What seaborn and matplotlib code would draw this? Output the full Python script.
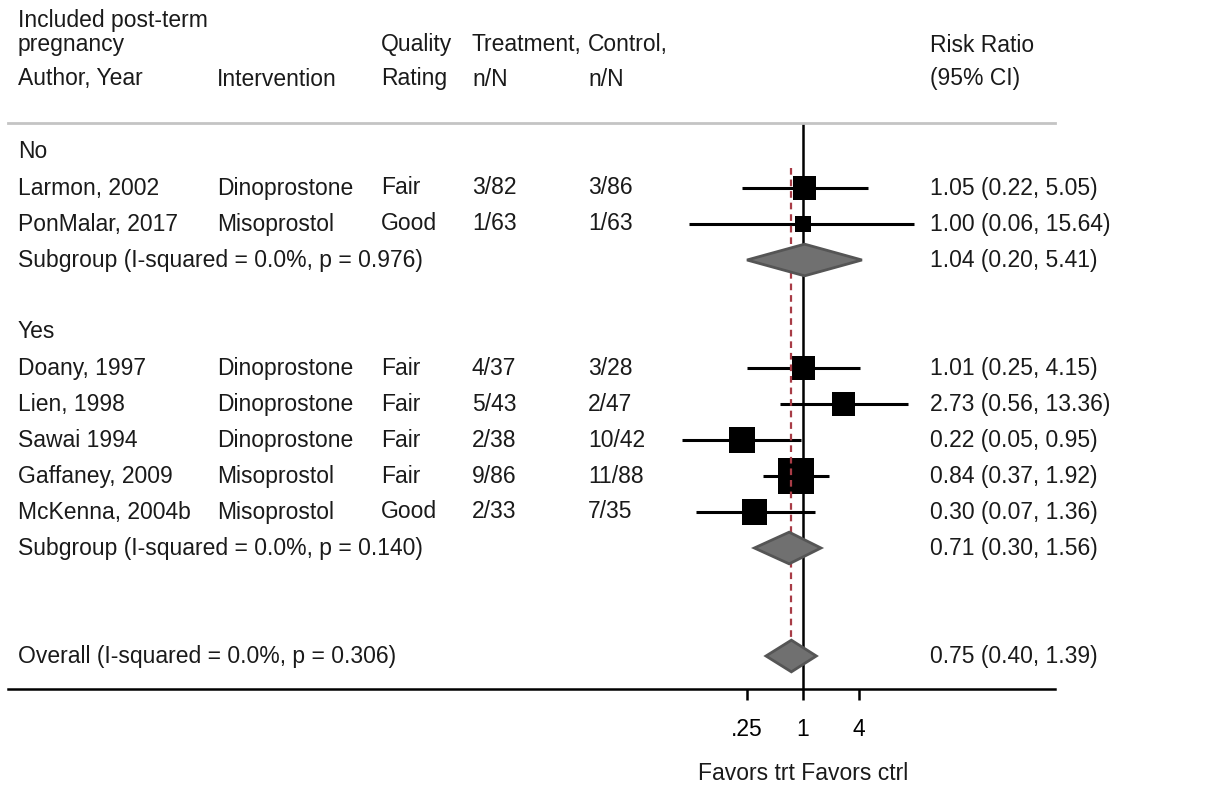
import numpy as np
import pandas as pd
import matplotlib
matplotlib.use("Agg")
import matplotlib.pyplot as plt
import matplotlib.transforms as mtransforms
import seaborn as sns

# Study-level data
studies = ["Larmon, 2002", "PonMalar, 2017", "Doany, 1997", "Lien, 1998",
           "Sawai 1994", "Gaffaney, 2009", "McKenna, 2004b"]
groups = ["No", "No", "Yes", "Yes", "Yes", "Yes", "Yes"]
interventions = ["Dinoprostone", "Misoprostol", "Dinoprostone", "Dinoprostone",
                 "Dinoprostone", "Misoprostol", "Misoprostol"]
quality = ["Fair", "Good", "Fair", "Fair", "Fair", "Fair", "Good"]
treat_nN = ["3/82", "1/63", "4/37", "5/43", "2/38", "9/86", "2/33"]
ctrl_nN = ["3/86", "1/63", "3/28", "2/47", "10/42", "11/88", "7/35"]
rr = [1.05, 1.00, 1.01, 2.73, 0.22, 0.84, 0.30]
rr_lo = [0.22, 0.06, 0.25, 0.56, 0.05, 0.37, 0.07]
rr_hi = [5.05, 15.64, 4.15, 13.36, 0.95, 1.92, 1.36]
weights = [12.1, 5.8, 12.1, 12.1, 14.8, 28.8, 14.3]

# Pooled estimates (subgroup No, subgroup Yes, overall)
pooled_labels = ["Subgroup (I-squared = 0.0%, p = 0.976)",
                 "Subgroup (I-squared = 0.0%, p = 0.140)",
                 "Overall (I-squared = 0.0%, p = 0.306)"]
pooled_rr = [1.04, 0.71, 0.75]
pooled_lo = [0.20, 0.30, 0.40]
pooled_hi = [5.41, 1.56, 1.39]
# diamond extents as drawn in the figure
diamond_lo = [0.25, 0.30, 0.40]
diamond_hi = [4.30, 1.56, 1.39]

group_names = ["No", "Yes"]
tick_vals = [0.25, 1, 4]
tick_labels = [".25", "1", "4"]


def fmt_ci(e, lo, hi):
    return f"{e:.2f} ({lo:.2f}, {hi:.2f})"


def main():
    sns.set_theme(style="white")
    plt.rcParams["font.family"] = ["Liberation Sans", "DejaVu Sans"]
    fs = 16.5

    # assign rows: group header, studies, subgroup line, blank
    r = 0
    header_rows, sub_rows = [], []
    study_rows = [0] * len(studies)
    for g in group_names:
        header_rows.append(r)
        r += 1
        for i, gg in enumerate(groups):
            if gg == g:
                study_rows[i] = r
                r += 1
        sub_rows.append(r)
        r += 2
    overall_row = r + 1
    pooled_rows = sub_rows + [overall_row]

    df = pd.DataFrame({"study": studies, "rr": rr, "lo": rr_lo, "hi": rr_hi,
                       "weight": weights, "row": study_rows})

    fig = plt.figure(figsize=(12.1, 7.93), dpi=100)
    W, H = 1210, 793
    ax = fig.add_axes([8 / W, 1 - 689 / H, (1055 - 8) / W, (689 - 123) / H])

    ppl = 40.4  # pixels per ln unit
    x_one = 803
    ax.set_xscale("log")
    ax.set_xlim(np.exp((8 - x_one) / ppl), np.exp((1055 - x_one) / ppl))
    ax.set_ylim((689 - 152) / 36, (123 - 152) / 36)

    # null line and overall line
    ax.axvline(1, color="black", lw=1.8, zorder=1)
    ax.vlines(pooled_rr[-1], study_rows[0] - 0.56, overall_row + 0.44,
              color="#a83c46", lw=1.6, linestyles=(0, (3, 2.2)), zorder=4)

    # CIs and weighted squares
    ax.hlines(df["row"], df["lo"], df["hi"], color="black", lw=2.2, zorder=2)
    k = 22.7
    sns.scatterplot(data=df, x="rr", y="row", size="weight",
                    sizes=(k * min(weights), k * max(weights)),
                    size_norm=(min(weights), max(weights)),
                    marker="s", color="black", edgecolor="none",
                    legend=False, ax=ax, zorder=3)

    # diamonds
    h = 0.44
    for y, e, lo, hi in zip(pooled_rows, pooled_rr, diamond_lo, diamond_hi):
        ax.fill([lo, e, hi, e], [y, y - h, y, y + h], facecolor="#707070",
                edgecolor="#555555", lw=2, zorder=5)

    # axes styling
    for s in ["left", "right"]:
        ax.spines[s].set_visible(False)
    ax.spines["top"].set_color("#c4c4c4")
    ax.spines["top"].set_linewidth(2)
    ax.spines["bottom"].set_color("black")
    ax.spines["bottom"].set_linewidth(1.8)
    ax.set_yticks([])
    ax.set_xticks(tick_vals)
    ax.set_xticklabels(tick_labels)
    ax.xaxis.set_minor_locator(matplotlib.ticker.NullLocator())
    ax.tick_params(axis="x", bottom=True, length=8, width=1.8,
                   labelsize=fs, pad=13, colors="black")
    ax.set_xlabel("")
    ax.set_ylabel("")
    ax.text(1, 17.25, "Favors trt Favors ctrl", ha="center", va="center",
            fontsize=fs, color="#1a1a1a")

    # text columns
    tr = mtransforms.blended_transform_factory(fig.transFigure, ax.transData)
    cx = {"author": 18, "interv": 217, "qual": 381, "treat": 472,
          "ctrl": 588, "rr": 930}

    def put(col, y, s):
        ax.text(cx[col] / W, y, s, transform=tr, ha="left", va="center",
                fontsize=fs, color="#1a1a1a")

    ypx = lambda p: (p - 152) / 36
    put("author", ypx(21), "Included post-term")
    put("author", ypx(45), "pregnancy")
    put("author", ypx(79), "Author, Year")
    put("interv", ypx(79), "Intervention")
    put("qual", ypx(45), "Quality")
    put("qual", ypx(79), "Rating")
    put("treat", ypx(45), "Treatment,")
    put("treat", ypx(79), "n/N")
    put("ctrl", ypx(45), "Control,")
    put("ctrl", ypx(79), "n/N")
    put("rr", ypx(45), "Risk Ratio")
    put("rr", ypx(79), "(95% CI)")

    for g, y in zip(group_names, header_rows):
        put("author", y, g)
    for i, y in enumerate(study_rows):
        put("author", y, studies[i])
        put("interv", y, interventions[i])
        put("qual", y, quality[i])
        put("treat", y, treat_nN[i])
        put("ctrl", y, ctrl_nN[i])
        put("rr", y, fmt_ci(rr[i], rr_lo[i], rr_hi[i]))
    for j, y in enumerate(pooled_rows):
        put("author", y, pooled_labels[j])
        put("rr", y, fmt_ci(pooled_rr[j], pooled_lo[j], pooled_hi[j]))

    fig.savefig("out.png", dpi=100)


if __name__ == "__main__":
    main()
